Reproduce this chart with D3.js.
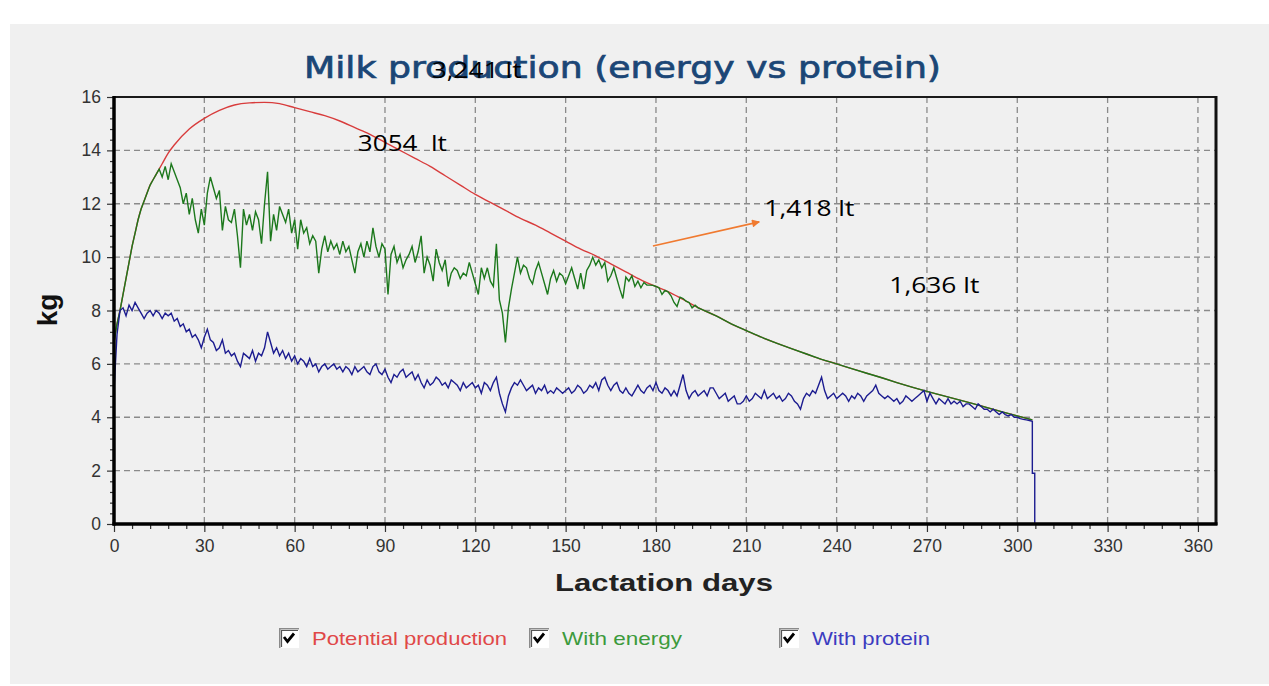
<!DOCTYPE html>
<html>
<head>
<meta charset="utf-8">
<script src="https://cdn.jsdelivr.net/npm/d3@7"></script>
<style>
  html, body { margin: 0; padding: 0; background: #ffffff; }
  svg { display: block; }
</style>
</head>
<body>
<svg id="chart" width="1269" height="686"></svg>
<script>
// ---------------- DATA ----------------
const title = "Milk production (energy vs protein)";
const xLabel = "Lactation days";
const yLabel = "kg";
const xTicks = [0, 30, 60, 90, 120, 150, 180, 210, 240, 270, 300, 330, 360];
const yTicks = [0, 2, 4, 6, 8, 10, 12, 14, 16];
const legendLabels = ["Potential production", "With energy", "With protein"];
const legendColors = ["#e04848", "#3c9a3c", "#3c3cc0"];
const seriesColors = ["#d83c3c", "#1c781c", "#1c1c90"];

// Potential production (smooth)
const redDays = [0,1,2,3,4,5,6,7,8,9,10,12,14,16,18,20,25,30,35,40,45,50,55,60,65,70,75,80,85,90,95,100,105,110,115,120,125,130,135,140,145,150,155,160,165,170,175,180,185,190,195,200,205,210,215,220,225,230,235,240,245,250,255,260,265,270,275,280,285,290,295,300,305];
const redValues = [6.8,7.5,8.0,8.6,9.2,9.8,10.4,10.9,11.4,11.8,12.1,12.7,13.1,13.5,13.9,14.2,14.8,15.2,15.5,15.7,15.78,15.8,15.75,15.6,15.45,15.3,15.1,14.85,14.6,14.3,14.0,13.7,13.4,13.05,12.7,12.35,12.05,11.75,11.45,11.2,10.9,10.6,10.3,10.05,9.75,9.45,9.15,8.9,8.65,8.35,8.05,7.8,7.5,7.25,7.0,6.78,6.57,6.37,6.17,6.0,5.82,5.65,5.48,5.3,5.13,4.97,4.82,4.67,4.52,4.36,4.2,4.05,3.9];

// With energy: daily values, day 0..179
const greenDaily = [
  6.8,7.5,8.0,8.6,9.2,9.8,10.4,10.9,11.4,11.8,
  12.1,12.4,12.7,12.9,13.1,13.3,13.0,13.4,12.9,13.5,
  13.2,12.9,12.6,12.0,12.4,11.6,12.2,11.4,10.9,11.8,
  11.2,12.4,13.0,12.6,12.2,12.5,11.0,11.9,11.4,11.3,
  11.8,10.8,9.6,11.8,11.2,11.6,11.0,11.7,11.4,10.5,
  12.0,13.2,10.6,11.6,11.0,11.9,11.6,11.3,11.8,10.9,
  11.4,10.3,11.4,10.9,11.1,10.5,10.8,10.6,9.4,10.3,
  10.8,10.2,10.6,10.3,10.5,10.1,10.6,10.2,10.4,9.9,
  9.4,10.2,10.5,10.0,10.6,10.2,11.1,10.4,10.0,10.5,
  10.3,8.6,10.1,10.4,9.8,10.1,9.6,9.9,10.1,10.4,
  9.8,10.2,10.8,9.4,10.0,9.7,9.1,10.3,9.8,9.5,
  9.9,8.9,9.4,9.6,9.5,9.2,9.4,9.3,9.8,9.4,
  9.0,8.6,9.6,9.2,9.6,9.1,8.9,10.5,8.4,7.9,
  6.8,8.1,8.8,9.4,10.0,9.4,9.7,9.6,9.2,9.0,
  9.5,9.8,9.4,9.0,8.6,9.2,9.5,9.1,9.4,9.3,
  9.0,9.3,9.6,9.2,8.8,9.4,8.8,9.5,9.7,10.0,
  9.7,9.9,9.6,9.8,9.1,9.3,9.6,9.2,8.8,8.45,
  9.25,9.1,9.3,8.9,9.1,8.85,9.05,8.95,8.95,8.94
];
// With energy: tail (follows potential production)
const greenTailDays = [180,181,182,183,184,185,186,187,188,189,190,191,192,193,194,195,200,205,210,215,220,225,230,235,240,245,250,255,260,265,270,275,280,285,290,295,300,305];
const greenTailValues = [8.9,8.85,8.6,8.75,8.7,8.55,8.3,8.15,8.5,8.45,8.35,8.3,8.1,8.2,8.1,8.05,7.8,7.5,7.25,7.0,6.78,6.57,6.37,6.17,6.0,5.82,5.65,5.48,5.3,5.13,4.97,4.82,4.67,4.52,4.36,4.2,4.05,3.9];

// With protein: daily values, day 0..305
const blueDaily = [
  5.0,7.1,8.0,8.1,7.8,8.2,8.0,8.3,8.1,7.9,
  7.7,7.9,8.0,7.8,8.0,7.9,7.7,7.9,7.8,7.9,
  7.6,7.7,7.4,7.5,7.2,7.3,7.0,7.1,6.9,6.6,
  7.0,7.3,6.9,6.8,6.5,6.6,6.9,6.4,6.5,6.3,
  6.4,6.1,5.9,6.4,6.3,6.2,6.5,6.1,6.4,6.3,
  6.6,7.2,6.8,6.4,6.6,6.3,6.5,6.2,6.4,6.1,
  6.3,6.0,6.2,6.1,5.9,6.2,5.9,6.0,5.7,5.9,
  6.0,5.8,5.9,6.0,5.8,5.9,5.7,5.9,5.8,5.6,
  5.9,5.7,5.8,5.9,5.7,5.6,5.9,6.0,5.7,5.6,
  5.8,5.5,5.3,5.6,5.5,5.7,5.8,5.5,5.6,5.7,
  5.4,5.6,5.3,5.1,5.4,5.2,5.3,5.5,5.4,5.2,
  5.3,5.1,5.4,5.3,5.2,5.0,5.3,5.1,5.2,5.3,
  5.1,5.2,4.9,5.3,5.2,5.0,5.3,5.5,4.9,4.5,
  4.2,4.8,5.1,5.3,5.2,5.4,5.2,5.0,5.1,5.2,
  4.9,5.1,5.0,5.2,4.9,5.0,4.9,5.1,5.0,4.9,
  5.0,5.1,4.9,5.0,5.2,5.1,4.9,5.0,5.2,5.1,
  5.3,5.0,5.4,5.5,5.2,5.0,5.2,5.3,5.0,4.9,
  5.1,4.9,4.8,5.0,5.2,5.0,4.9,5.1,5.2,5.0,
  5.3,5.0,4.9,5.1,5.0,4.8,5.0,4.8,5.2,5.6,
  5.0,4.7,4.9,5.0,4.8,4.9,5.0,4.8,5.1,5.1,
  4.9,4.7,4.8,4.9,4.6,4.7,4.8,4.5,4.5,4.6,
  4.8,4.6,4.7,4.9,4.8,4.7,5.0,4.7,4.8,4.9,
  4.7,4.8,4.6,4.7,4.9,4.8,4.6,4.5,4.3,4.7,
  4.9,4.8,5.0,4.9,5.2,5.5,5.0,4.7,4.8,4.9,
  4.7,4.8,4.9,4.8,4.6,4.8,4.7,4.9,4.8,4.6,
  4.8,4.9,5.0,5.2,4.9,4.8,4.7,4.8,4.7,4.6,
  4.7,4.5,4.6,4.8,4.7,4.6,4.7,4.8,4.9,5.0,
  4.6,4.9,4.7,4.5,4.7,4.6,4.5,4.7,4.5,4.6,
  4.5,4.6,4.4,4.5,4.5,4.4,4.3,4.5,4.4,4.3,
  4.3,4.2,4.3,4.2,4.1,4.2,4.1,4.05,4.1,4.0,
  4.0,3.95,3.92,3.9,3.88,3.85
];
const blueTailDays = [305, 305.8, 305.8];
const blueTailValues = [1.9, 1.9, 0];

// Annotations (data coordinates)
const noteTexts = ["3,241 lt", "3054  lt", "1,418 lt", "1,636 lt"];
const noteDays = [105.5, 81, 216, 257.5];
const noteValues = [16.72, 13.98, 11.55, 8.66];
const arrowFrom = [179, 10.42];
const arrowTo = [214.3, 11.32];

// ---------------- LAYOUT ----------------
const svg = d3.select("#chart");
const W = 1269, H = 686;
const xMaxDomain = 366;
const x = d3.scaleLinear().domain([0, xMaxDomain]).range([114, 1216]);
const y = d3.scaleLinear().domain([0, 16]).range([524, 97]);

svg.append("rect").attr("x", 0).attr("y", 0).attr("width", W).attr("height", H).attr("fill", "#ffffff");
svg.append("rect").attr("x", 10).attr("y", 24).attr("width", W - 10).attr("height", H - 26).attr("fill", "#f0f0f0");

// Grid
const grid = svg.append("g").attr("stroke", "#8a8a8a").attr("stroke-width", 1.3).attr("stroke-dasharray", "6,4");
grid.selectAll("line.vx").data(xTicks.filter(d => d > 0)).enter().append("line")
  .attr("x1", d => x(d)).attr("x2", d => x(d)).attr("y1", y(16)).attr("y2", y(0));
grid.selectAll("line.hy").data(yTicks.filter(d => d > 0 && d < 16)).enter().append("line")
  .attr("x1", x(0)).attr("x2", x(xMaxDomain)).attr("y1", d => y(d)).attr("y2", d => y(d));

// Axes
const tickFont = "'Liberation Sans', Arial, sans-serif";
const xMinor = d3.range(0, 361, 6).filter(d => d % 30 !== 0);
const yMinor = d3.range(0, 16.01, 0.4).filter(d => Math.abs(d / 2 - Math.round(d / 2)) > 1e-6);

svg.append("g").attr("transform", `translate(0,${y(0) + 1})`)
  .call(d3.axisBottom(x).tickValues(xTicks).tickSize(7).tickPadding(8).tickFormat(d3.format("d")));
svg.append("g").attr("transform", `translate(0,${y(0) + 1})`)
  .call(d3.axisBottom(x).tickValues(xMinor).tickSize(4).tickFormat(""));
svg.append("g").attr("transform", `translate(${x(0) - 1},0)`)
  .call(d3.axisLeft(y).tickValues(yTicks).tickSize(6).tickPadding(6).tickFormat(d3.format("d")));
svg.append("g").attr("transform", `translate(${x(0) - 1},0)`)
  .call(d3.axisLeft(y).tickValues(yMinor).tickSize(3).tickFormat(""));
svg.selectAll(".domain").remove();
svg.selectAll(".tick line").attr("stroke", "#333").attr("stroke-width", 1.2);
svg.selectAll(".tick text").attr("font-family", tickFont).attr("font-size", 17.5).attr("fill", "#333");

// Series
const lineGen = d3.line().x(d => x(d[0])).y(d => y(d[1]));
const redPts = redDays.map((d, i) => [d, redValues[i]]);
const greenPts = greenDaily.map((v, i) => [i, v]).concat(greenTailDays.map((d, i) => [d, greenTailValues[i]]));
const bluePts = blueDaily.map((v, i) => [i, v]).concat(blueTailDays.map((d, i) => [d, blueTailValues[i]]));

svg.append("path").datum(redPts).attr("fill", "none").attr("stroke", seriesColors[0]).attr("stroke-width", 1.4)
  .attr("d", d3.line().x(d => x(d[0])).y(d => y(d[1])).curve(d3.curveMonotoneX));
svg.append("path").datum(greenPts).attr("fill", "none").attr("stroke", seriesColors[1]).attr("stroke-width", 1.4)
  .attr("stroke-linejoin", "miter").attr("d", lineGen);
svg.append("path").datum(bluePts).attr("fill", "none").attr("stroke", seriesColors[2]).attr("stroke-width", 1.4)
  .attr("stroke-linejoin", "miter").attr("d", lineGen);

// Frame
svg.append("line").attr("x1", x(0)).attr("x2", x(xMaxDomain)).attr("y1", y(16)).attr("y2", y(16)).attr("stroke", "#1a1a1a").attr("stroke-width", 2);
svg.append("line").attr("x1", x(xMaxDomain)).attr("x2", x(xMaxDomain)).attr("y1", y(16) - 1).attr("y2", y(0) + 1).attr("stroke", "#111").attr("stroke-width", 3);
svg.append("line").attr("x1", x(0)).attr("x2", x(0)).attr("y1", y(16) - 1).attr("y2", y(0) + 1.5).attr("stroke", "#000").attr("stroke-width", 3.5);
svg.append("line").attr("x1", x(0) - 1.5).attr("x2", x(xMaxDomain) + 1.5).attr("y1", y(0)).attr("y2", y(0)).attr("stroke", "#000").attr("stroke-width", 3.5);

// Title
svg.append("text").attr("x", 304).attr("y", 78).attr("font-family", "'DejaVu Sans', Verdana, sans-serif")
  .attr("font-size", 30).attr("fill", "#1b4676").attr("stroke", "#1b4676").attr("stroke-width", 0.7)
  .attr("textLength", 637).attr("lengthAdjust", "spacingAndGlyphs")
  .text(title);

// Axis titles
svg.append("text").attr("x", 555).attr("y", 591).attr("font-family", "'Liberation Sans', Arial, sans-serif")
  .attr("font-weight", "bold").attr("font-size", 24).attr("fill", "#222").attr("textLength", 218).attr("lengthAdjust", "spacingAndGlyphs")
  .text(xLabel);
svg.append("text").attr("transform", "translate(57,310) rotate(-90)").attr("text-anchor", "middle")
  .attr("font-family", "'Liberation Sans', Arial, sans-serif").attr("font-weight", "bold").attr("font-size", 28).attr("fill", "#111")
  .text(yLabel);

// Annotations
const noteWidths = [90, 89, 90, 90];
svg.selectAll("text.note").data(noteTexts).enter().append("text").attr("class", "note")
  .attr("x", (d, i) => x(noteDays[i])).attr("y", (d, i) => y(noteValues[i]))
  .attr("font-family", "'Open Sans', 'Noto Sans', sans-serif").attr("font-size", 22).attr("fill", "#000")
  .attr("textLength", (d, i) => noteWidths[i]).attr("lengthAdjust", "spacingAndGlyphs")
  .style("white-space", "pre").text(d => d);

const defs = svg.append("defs");
defs.append("marker").attr("id", "arrowhead").attr("viewBox", "0 0 10 10").attr("refX", 9).attr("refY", 5)
  .attr("markerWidth", 9).attr("markerHeight", 8).attr("markerUnits", "userSpaceOnUse").attr("orient", "auto")
  .append("path").attr("d", "M0,0 L10,5 L0,10 z").attr("fill", "#f07a30");
svg.append("line").attr("x1", x(arrowFrom[0])).attr("y1", y(arrowFrom[1])).attr("x2", x(arrowTo[0])).attr("y2", y(arrowTo[1]))
  .attr("stroke", "#f07a30").attr("stroke-width", 1.6).attr("marker-end", "url(#arrowhead)");

// Legend
const legend = svg.append("g");
legendLabels.forEach((label, i) => {
  const gx = 279 + i * 250, gy = 628;
  const g = legend.append("g").attr("transform", `translate(${gx},${gy})`);
  g.append("rect").attr("x", 0).attr("y", 0).attr("width", 20).attr("height", 20).attr("fill", "#ffffff");
  g.append("path").attr("d", "M0.75,20 L0.75,0.75 L20,0.75").attr("fill", "none").attr("stroke", "#8a8a8a").attr("stroke-width", 1.5);
  g.append("path").attr("d", "M2.5,19 L2.5,2.5 L19,2.5").attr("fill", "none").attr("stroke", "#555").attr("stroke-width", 1.2);
  g.append("path").attr("d", "M5,9 L8.5,13.5 L15,5.5").attr("fill", "none").attr("stroke", "#000").attr("stroke-width", 2.8);
  const widths = [195, 120, 118];
  g.append("text").attr("x", 33).attr("y", 17).attr("font-family", "'Liberation Sans', Arial, sans-serif")
    .attr("font-size", 18.5).attr("fill", legendColors[i]).attr("textLength", widths[i]).attr("lengthAdjust", "spacingAndGlyphs")
    .text(label);
});
</script>
</body>
</html>
